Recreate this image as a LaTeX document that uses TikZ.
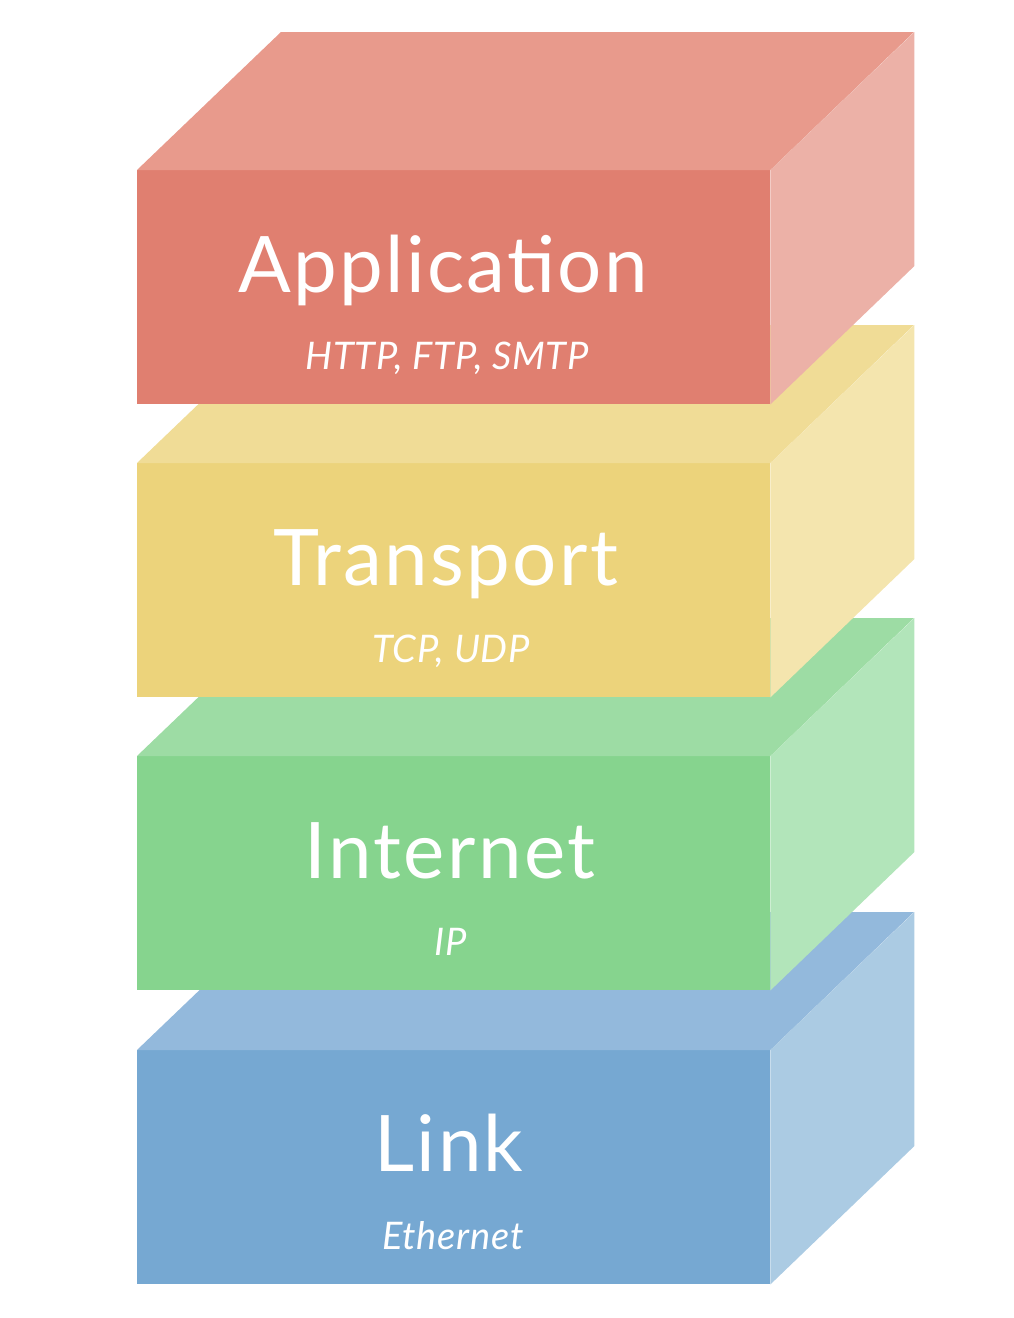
\documentclass[tikz,border=0pt]{standalone}
\usepackage{fontspec}
\setmainfont{Lato}
\definecolor{appfront}{HTML}{E07F70}
\definecolor{apptop}{HTML}{E89A8C}
\definecolor{appside}{HTML}{ECB1A7}
\definecolor{tranfront}{HTML}{ECD37B}
\definecolor{trantop}{HTML}{F0DC96}
\definecolor{transide}{HTML}{F4E5AE}
\definecolor{netfront}{HTML}{86D48E}
\definecolor{nettop}{HTML}{9DDCA4}
\definecolor{netside}{HTML}{B2E5BA}
\definecolor{linkfront}{HTML}{76A8D2}
\definecolor{linktop}{HTML}{93B9DC}
\definecolor{linkside}{HTML}{ABCBE3}
\tikzset{
  front/.style={rectangle,minimum width=633pt,minimum height=234pt,inner sep=0pt,anchor=north west},
  title/.style={text=white,font=\fontsize{78}{78}\selectfont\addfontfeature{LetterSpace=3},anchor=base},
  proto/.style={text=white,font=\fontsize{38}{38}\selectfont\itshape\addfontfeature{LetterSpace=2},anchor=base}
}
\begin{document}
\begin{tikzpicture}[x=1pt,y=-1pt]
\useasboundingbox (0,0) rectangle (1014,1318);
% Link
\node[front,fill=linkfront] (link) at (137,1050) {};
\fill[linktop] (link.north west) -- ++(144,-138) -- ++(633,0) -- (link.north east) -- cycle;
\fill[linkside] (link.north east) -- ++(144,-138) -- ++(0,234) -- (link.south east) -- cycle;
\node[title] (linkname) at (449,1171) {Link};
\node[proto] (linkproto) at (453,1249) {Ethernet};
% Internet
\node[front,fill=netfront] (net) at (137,756) {};
\fill[nettop] (net.north west) -- ++(144,-138) -- ++(633,0) -- (net.north east) -- cycle;
\fill[netside] (net.north east) -- ++(144,-138) -- ++(0,234) -- (net.south east) -- cycle;
\node[title] (netname) at (450,878) {Internet};
\node[proto] (netproto) at (451,955) {IP};
% Transport
\node[front,fill=tranfront] (tran) at (137,463) {};
\fill[trantop] (tran.north west) -- ++(144,-138) -- ++(633,0) -- (tran.north east) -- cycle;
\fill[transide] (tran.north east) -- ++(144,-138) -- ++(0,234) -- (tran.south east) -- cycle;
\node[title] (tranname) at (446,585) {Transport};
\node[proto] (tranproto) at (451,662) {TCP, UDP};
% Application
\node[front,fill=appfront] (app) at (137,170) {};
\fill[apptop] (app.north west) -- ++(144,-138) -- ++(633,0) -- (app.north east) -- cycle;
\fill[appside] (app.north east) -- ++(144,-138) -- ++(0,234) -- (app.south east) -- cycle;
\node[title] (appname) at (443,292) {Application};
\node[proto] (appproto) at (447,369) {HTTP, FTP, SMTP};
\end{tikzpicture}
\end{document}
